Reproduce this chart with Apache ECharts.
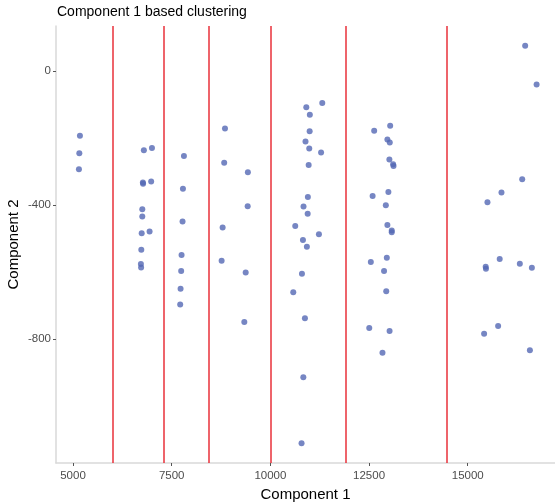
<!DOCTYPE html>
<html>
<head>
<meta charset="utf-8">
<script src="https://cdn.jsdelivr.net/npm/echarts@6/dist/echarts.min.js"></script>
<style>
  html, body { margin: 0; padding: 0; background: #fff; }
  #chart { width: 555px; height: 504px; }
</style>
</head>
<body>
<div id="chart"></div>
<script>
// component 1 / component 2 scores
const comp1 = [
  5175, 5160, 5150,
  6795, 7000, 6770, 6775, 6980, 6755, 6755, 6740, 6940, 6730, 6720, 6725,
  7810, 7785, 7775, 7750, 7740, 7725, 7715,
  8850, 8830, 9430, 9425, 8790, 8765, 9375, 9340,
  11315, 10910, 11000, 10995, 10890, 10985, 11285, 10970, 10950, 10840, 10945,
  10630, 11230, 10825, 10925, 10800, 10580, 10875, 10835, 10790,
  13035, 12630, 12965, 13025, 13015, 13110, 13120, 12990, 12590, 12925, 12965,
  13075, 13075, 12950, 12545, 12880, 12935, 12505, 13020, 12840,
  16455, 16745, 16380, 15855, 15500, 15810, 15455, 15462, 16320, 16625, 15770, 15415, 16575
];
const comp2 = [
  -194, -246, -294,
  -237, -230, -333, -337, -330, -413, -435, -485, -480, -534, -577, -587,
  -254, -352, -450, -550, -598, -651, -698,
  -172, -274, -303, -404, -468, -567, -602, -750,
  -96, -109, -131, -180, -211, -232, -244, -281, -377, -405, -427,
  -463, -488, -505, -525, -606, -661, -739, -915, -1112,
  -164, -179, -205, -214, -265, -279, -284, -362, -374, -401, -460,
  -477, -482, -558, -571, -598, -658, -768, -777, -842,
  75, -41, -324, -363, -392, -562, -585, -591, -576, -588, -762, -785, -834
];
// cluster boundaries on component 1
const cutPoints = [6000, 7300, 8450, 10000, 11900, 14480];
const xTicks = [5000, 7500, 10000, 12500, 15000];
const yTicks = [-800, -400, 0];

const points = comp1.map((x, i) => [x, comp2[i]]);

const chart = echarts.init(document.getElementById("chart"));
const axisGrey = "#d9d9d9";
const labelGrey = "#4d4d4d";
const font = "Liberation Sans";

chart.setOption({
  backgroundColor: "#ffffff",
  animation: false,
  title: {
    text: "Component 1 based clustering",
    left: 57,
    top: 5,
    padding: 0,
    textStyle: { fontFamily: font, fontSize: 14, fontWeight: "normal", color: "#000" },
  },
  grid: { left: 56, right: 0, top: 26, bottom: 41, outerBoundsMode: "none" },
  xAxis: {
    type: "value",
    min: 4569,
    max: 17211,
    name: "Component 1",
    nameLocation: "middle",
    nameGap: 24,
    nameTextStyle: { fontFamily: font, fontSize: 15, color: "#000" },
    splitLine: { show: false },
    axisLine: { show: true, onZero: false, lineStyle: { color: axisGrey, width: 1.5 } },
    axisTick: { show: true, customValues: xTicks, length: 3, lineStyle: { color: "#555" } },
    axisLabel: {
      customValues: xTicks,
      formatter: (v) => String(v),
      fontFamily: font, fontSize: 11.5, color: labelGrey, margin: 7,
    },
  },
  yAxis: {
    type: "value",
    min: -1171,
    max: 134,
    name: "Component 2",
    nameLocation: "middle",
    nameRotate: 90,
    nameGap: 35,
    nameMoveOverlap: false,
    nameTextStyle: { fontFamily: font, fontSize: 15, color: "#000" },
    splitLine: { show: false },
    axisLine: { show: true, onZero: false, lineStyle: { color: axisGrey, width: 1.5 } },
    axisTick: { show: true, customValues: yTicks, length: 3, lineStyle: { color: "#555" } },
    axisLabel: {
      customValues: yTicks,
      formatter: (v) => String(v),
      fontFamily: font, fontSize: 11.5, color: labelGrey, margin: 5,
    },
  },
  series: [
    {
      type: "scatter",
      data: points,
      symbolSize: 6,
      itemStyle: { color: "#5468b4" },
      z: 3,
      markLine: {
        silent: true,
        symbol: "none",
        label: { show: false },
        lineStyle: { color: "#e8303a", type: "solid", width: 1.5 },
        data: cutPoints.map((v) => ({ xAxis: v })),
      },
    },
  ],
});
</script>
</body>
</html>
